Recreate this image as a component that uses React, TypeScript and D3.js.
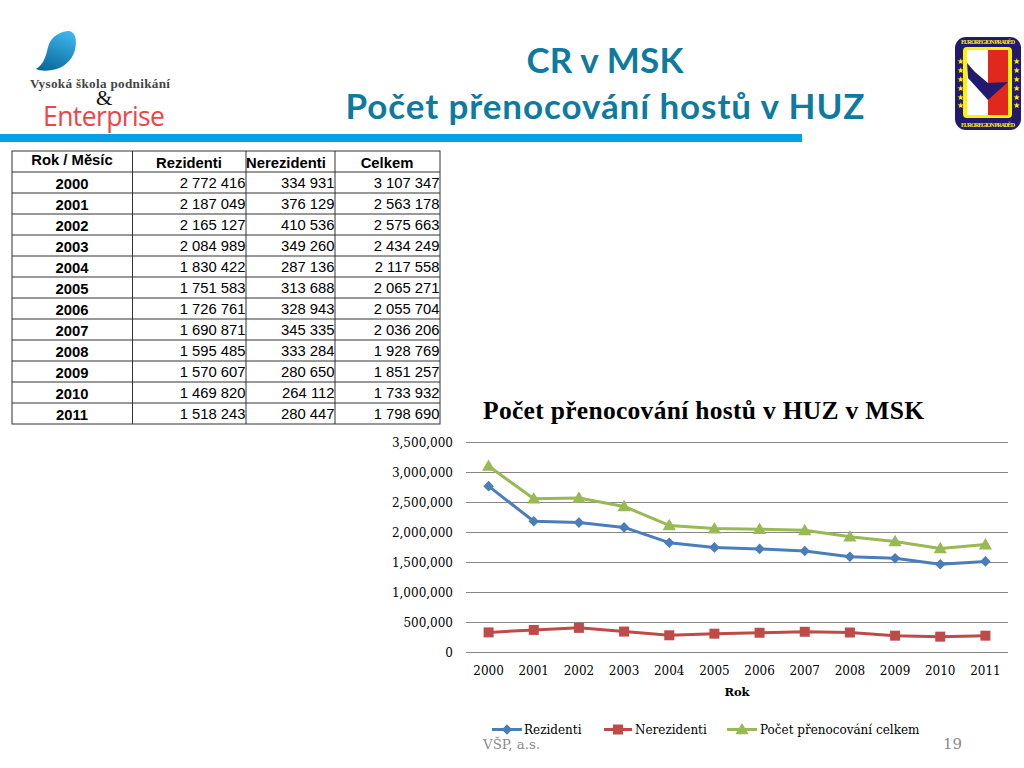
import React from "react";
import * as d3 from "d3";

const years = ["2000","2001","2002","2003","2004","2005","2006","2007","2008","2009","2010","2011"];
const rezidenti = [2772416,2187049,2165127,2084989,1830422,1751583,1726761,1690871,1595485,1570607,1469820,1518243];
const nerezidenti = [334931,376129,410536,349260,287136,313688,328943,345335,333284,280650,264112,280447];
const celkem = [3107347,2563178,2575663,2434249,2117558,2065271,2055704,2036206,1928769,1851257,1733932,1798690];
const rezTxt = ["2 772 416","2 187 049","2 165 127","2 084 989","1 830 422","1 751 583","1 726 761","1 690 871","1 595 485","1 570 607","1 469 820","1 518 243"];
const nerTxt = ["334 931","376 129","410 536","349 260","287 136","313 688","328 943","345 335","333 284","280 650","264 112","280 447"];
const celTxt = ["3 107 347","2 563 178","2 575 663","2 434 249","2 117 558","2 065 271","2 055 704","2 036 206","1 928 769","1 851 257","1 733 932","1 798 690"];
const yTicks = [0,500000,1000000,1500000,2000000,2500000,3000000,3500000];
const headers = ["Rok / Měsíc","Rezidenti","Nerezidenti","Celkem"];

const BLUE = "#4a7ebb", RED = "#be4b48", GREEN = "#98b954";
const SERIF = "'Liberation Serif', serif";
const CAMBRIA = "'DejaVu Serif', serif";
const SANS = "'Liberation Sans', sans-serif";

const x = d3.scaleBand().domain(years).range([466, 1008]);
const y = d3.scaleLinear().domain([0, 3500000]).range([652.5, 442.5]);
const cx = (yr: string) => (x(yr) as number) + x.bandwidth() / 2;
const lineGen = d3.line<number>().x((_, i) => cx(years[i])).y(d => y(d));
const fmt = d3.format(",");

const colX = [12, 132.5, 246, 335, 440];
const rowY = d3.scaleLinear().domain([0, 12]).range([172, 424]);

type Kind = "diamond" | "square" | "triangle";
const sym: Record<Kind, string> = {
  diamond: d3.symbol(d3.symbolSquare, 56)() as string,
  square: d3.symbol(d3.symbolSquare, 100)() as string,
  triangle: d3.symbol(d3.symbolTriangle, 75)() as string,
};
const symRot: Record<Kind, string> = { diamond: "rotate(45)", square: "", triangle: "translate(0,1)" };

const series: { name: string; vals: number[]; color: string; kind: Kind }[] = [
  { name: "Rezidenti", vals: rezidenti, color: BLUE, kind: "diamond" },
  { name: "Nerezidenti", vals: nerezidenti, color: RED, kind: "square" },
  { name: "Počet přenocování celkem", vals: celkem, color: GREEN, kind: "triangle" },
];
const legend = [
  { x0: 492, x1: 522, tx: 524 },
  { x0: 604, x1: 632, tx: 635 },
  { x0: 727, x1: 757, tx: 760 },
];
const starRows = [61, 70, 79, 88, 97, 105];

export default function App() {
  return (
    <svg width={1024} height={768} style={{ position: "absolute", left: 0, top: 0, background: "#fff" }}>
      <defs>
        <linearGradient id="drop" x1="0.7" y1="0" x2="0.3" y2="1">
          <stop offset="0" stopColor="#3cb4ec" />
          <stop offset="1" stopColor="#0a6a9c" />
        </linearGradient>
      </defs>

      {/* left logo */}
      <path d="M36 69 C44 64 46 56 48 47 C51 36 61 31 69 31 C76 32 77 41 75 50 C72 61 62 69 52 70 C46 71 40 71 36 69 Z" fill="url(#drop)" />
      <text x={30} y={87.5} fontFamily={SERIF} fontWeight="bold" fontSize={13.2} fill="#444" textLength={140}>Vysoká škola podnikání</text>
      <text x={96} y={105} fontFamily={SERIF} fontSize={21} fill="#111">&amp;</text>
      <text x={43} y={126} fontFamily="'Open Sans', sans-serif" fontSize={26.5} fill="#f04348" textLength={122}>Enterprise</text>

      {/* right logo */}
      <rect x={955} y={37} width={66} height={93} rx={11} fill="#231a70" />
      <rect x={963} y={47} width={49} height={71} rx={4} fill="#fff200" />
      <rect x={967} y={50} width={21} height={65} fill="#fff" />
      <rect x={988} y={50} width={20} height={65} fill="#e0281e" />
      <path d="M967 63 L975 72 L988 83 L1008 82 L988 100 L968 78 Z" fill="#231a70" />
      {starRows.map(r => (
        <g key={r}>
          <text x={960} y={r + 3} textAnchor="middle" fontSize={8} fill="#fff200">★</text>
          <text x={1016} y={r + 3} textAnchor="middle" fontSize={8} fill="#fff200">★</text>
        </g>
      ))}
      <text x={988} y={44} textAnchor="middle" fontFamily={SERIF} fontWeight="bold" fontSize={6} fill="#fff200" textLength={54}>EUROREGION PRADĚD</text>
      <text x={988} y={127} textAnchor="middle" fontFamily={SERIF} fontWeight="bold" fontSize={6} fill="#fff200" textLength={54}>EUROREGION PRADĚD</text>

      {/* slide title */}
      <g fontFamily="Lato, sans-serif" fontWeight="bold" fill="#0f7a9f" textAnchor="middle">
        <text x={605} y={73} fontSize={35} textLength={157}>CR v MSK</text>
        <text x={605} y={119} fontSize={35} textLength={519}>Počet přenocování hostů v HUZ</text>
      </g>
      <rect x={0} y={134} width={802} height={8} fill="#00a3e4" />

      {/* table */}
      <g stroke="#333" strokeWidth={1} fill="none">
        <rect x={12} y={151} width={428} height={273} />
        {years.map((_, i) => <line key={i} x1={12} x2={440} y1={rowY(i)} y2={rowY(i)} />)}
        {colX.slice(1, 4).map(c => <line key={c} x1={c} x2={c} y1={151} y2={424} />)}
      </g>
      <g fontFamily={SANS} fontSize={14.8} fill="#000">
        <text x={72} y={165} textAnchor="middle" fontWeight="bold">{headers[0]}</text>
        <text x={189} y={168} textAnchor="middle" fontWeight="bold">{headers[1]}</text>
        <text x={246} y={168} fontWeight="bold">{headers[2]}</text>
        <text x={387} y={168} textAnchor="middle" fontWeight="bold">{headers[3]}</text>
        {years.map((yr, i) => (
          <g key={yr}>
            <text x={72} y={rowY(i) + 17} textAnchor="middle" fontWeight="bold">{yr}</text>
            <text x={245.5} y={rowY(i) + 16} textAnchor="end">{rezTxt[i]}</text>
            <text x={334.5} y={rowY(i) + 16} textAnchor="end">{nerTxt[i]}</text>
            <text x={439.5} y={rowY(i) + 16} textAnchor="end">{celTxt[i]}</text>
          </g>
        ))}
      </g>

      {/* chart */}
      <text x={483} y={419} fontFamily={SERIF} fontWeight="bold" fontSize={25.5} fill="#000" textLength={441}>Počet přenocování hostů v HUZ v MSK</text>
      {yTicks.map(t => (
        <g key={t}>
          <line x1={466} x2={1008} y1={y(t)} y2={y(t)} stroke="#868686" strokeWidth={1} />
          <text x={453} y={y(t) + 4} textAnchor="end" fontFamily={CAMBRIA} fontSize={12} fill="#000">{fmt(t)}</text>
        </g>
      ))}
      {years.map(yr => (
        <text key={yr} x={cx(yr)} y={675} textAnchor="middle" fontFamily={CAMBRIA} fontSize={12} fill="#000">{yr}</text>
      ))}
      <text x={737} y={696} textAnchor="middle" fontFamily={CAMBRIA} fontWeight="bold" fontSize={11.5} fill="#000">Rok</text>

      {series.map(s => (
        <g key={s.name}>
          <path d={lineGen(s.vals) as string} fill="none" stroke={s.color} strokeWidth={3} strokeLinejoin="round" />
          {s.vals.map((v, i) => (
            <path key={i} d={sym[s.kind]} transform={`translate(${cx(years[i])},${y(v)}) ${symRot[s.kind]}`} fill={s.color} />
          ))}
        </g>
      ))}

      {/* legend */}
      {series.map((s, i) => (
        <g key={s.name}>
          <line x1={legend[i].x0} x2={legend[i].x1} y1={729.5} y2={729.5} stroke={s.color} strokeWidth={3} />
          <path d={sym[s.kind]} transform={`translate(${(legend[i].x0 + legend[i].x1) / 2},729.5) ${symRot[s.kind]}`} fill={s.color} />
          <text x={legend[i].tx} y={734} fontFamily={CAMBRIA} fontSize={12} fill="#000">{s.name}</text>
        </g>
      ))}

      {/* footer */}
      <text x={483} y={749} fontFamily={CAMBRIA} fontSize={13.4} fill="#8b8b8b">VŠP, a.s.</text>
      <text x={962} y={749} textAnchor="end" fontFamily={CAMBRIA} fontSize={15} fill="#8b8b8b">19</text>
    </svg>
  );
}
